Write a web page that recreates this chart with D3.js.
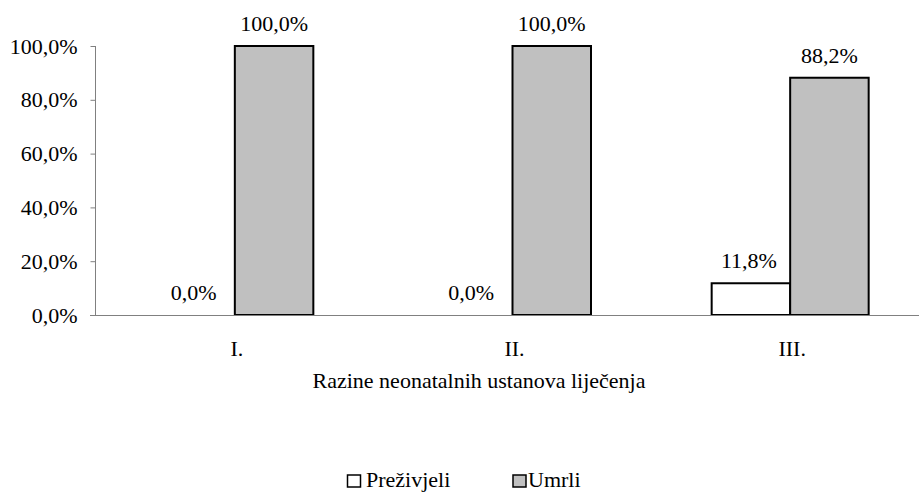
<!DOCTYPE html>
<html><head><meta charset="utf-8">
<script src="https://cdn.jsdelivr.net/npm/d3@7"></script>
<style>body{margin:0;background:#fff}svg{display:block}svg text{font-family:"Liberation Serif","Times New Roman",serif !important;fill:#000}</style>
</head><body><div id="chart"></div>
<script>
const categories = ["I.", "II.", "III."];
const seriesNames = ["Preživjeli", "Umrli"];
const prezivjeli = [0.0, 0.0, 11.8];
const umrli = [100.0, 100.0, 88.2];
const yTicks = [0, 20, 40, 60, 80, 100];
const colors = ["#ffffff", "#c0c0c0"];

const W = 919, H = 492, FS = 22;
const svg = d3.select("#chart").append("svg").attr("width", W).attr("height", H);
const x0 = d3.scaleBand().domain(categories).range([96, 929]).paddingInner(0).paddingOuter(0);
const x1 = d3.scaleBand().domain(seriesNames).range([-78.5, 78.5]);
const y = d3.scaleLinear().domain([0, 100]).range([315, 46]);
const fmt = v => v.toFixed(1).replace(".", ",") + "%";
const data = categories.map((c, i) => ({c, vals: [prezivjeli[i], umrli[i]]}));

// y axis
const yAxis = svg.append("g").attr("transform", "translate(95.5,0)")
  .call(d3.axisLeft(y).tickValues(yTicks).tickFormat(fmt).tickSize(5).tickPadding(13));
yAxis.attr("font-family", null).attr("font-size", null);
yAxis.select(".domain").attr("stroke", "#808080").attr("d", "M0," + y(100) + "V" + y(0));
yAxis.selectAll(".tick line").attr("stroke", "#808080");
yAxis.selectAll(".tick text").attr("font-size", FS).attr("fill", "#000");

// bars
const g = svg.append("g");
data.forEach(d => {
  d.vals.forEach((v, j) => {
    const cx = x0(d.c) + x0.bandwidth() / 2;
    const bx = cx + x1(seriesNames[j]);
    if (v > 0) {
      g.append("rect").attr("x", bx).attr("y", y(v)).attr("width", x1.bandwidth())
        .attr("height", y(0) - y(v)).attr("fill", colors[j]).attr("stroke", "#000").attr("stroke-width", 2);
    }
    g.append("text").attr("x", bx + x1.bandwidth() / 2 - (j === 0 ? 2 : 0)).attr("y", y(v) - 15)
      .attr("text-anchor", "middle").attr("font-size", FS).text(fmt(v));
  });
});

// x axis
const xAxis = svg.append("g").attr("transform", "translate(0,315.5)")
  .call(d3.axisBottom(x0).tickSize(0).tickPadding(25));
xAxis.attr("font-family", null).attr("font-size", null);
xAxis.select(".domain").attr("stroke", "#808080").attr("d", "M90,0H919");
xAxis.selectAll(".tick text").attr("font-size", FS).attr("fill", "#000").attr("dx", 2);

svg.append("text").attr("x", 479).attr("y", 388).attr("text-anchor", "middle")
  .attr("font-size", FS).text("Razine neonatalnih ustanova liječenja");

// legend
const legX = [347.5, 513];
const legTX = [366, 528];
seriesNames.forEach((n, j) => {
  svg.append("rect").attr("x", legX[j]).attr("y", 475).attr("width", 13).attr("height", 12)
    .attr("fill", colors[j]).attr("stroke", "#000").attr("stroke-width", 1.5);
  svg.append("text").attr("x", legTX[j]).attr("y", 487).attr("font-size", FS).text(n);
});
</script></body></html>
